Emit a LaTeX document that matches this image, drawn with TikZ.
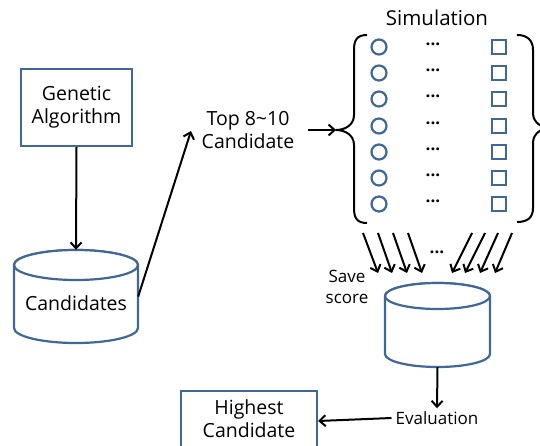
\documentclass[tikz,border=0pt]{standalone}
\usepackage{fontspec}
\setmainfont{Open Sans}
\usetikzlibrary{arrows.meta}
\definecolor{outl}{RGB}{63,103,151}
\tikzset{
  box/.style={draw=outl, line width=2.2pt, fill=white, inner sep=0pt},
  lbl/.style={align=center, font=\fontsize{19.5}{23}\selectfont, inner sep=0pt},
  small/.style={align=center, font=\fontsize{17}{21}\selectfont, inner sep=0pt},
  arr/.style={line width=2pt, -{Straight Barb[length=6pt,width=11pt,line width=2pt]}},
  circ/.style={circle, draw=outl, line width=2.2pt, minimum size=15pt, inner sep=0pt},
  sq/.style={rectangle, draw=outl, line width=2.2pt, minimum size=14pt, inner sep=0pt},
  brace/.style={line width=2pt, line join=round},
  cyl/.style={draw=outl, line width=2.2pt, fill=white},
  dots/.style={font=\fontsize{17}{17}\selectfont\bfseries, inner sep=0pt}
}
\begin{document}
\begin{tikzpicture}[x=1pt,y=1pt]
\useasboundingbox (0,0) rectangle (540,-446);
\clip (0,0) rectangle (540,-446);

% Genetic Algorithm box
\node[box, minimum width=111pt, minimum height=77pt] (ga) at (76.5,-107.5) {};
\node[lbl] (gat) at (ga.center) {Genetic\\Algorithm};

% Candidates cylinder
\draw[cyl] (14,-265) -- (14,-328) arc (180:360:62 and 15) -- (138,-265) arc (0:180:62 and 15) -- cycle;
\draw[cyl] (76,-265) ellipse (62 and 15);
\node[minimum width=124pt, minimum height=93pt, inner sep=0pt] (cand) at (76,-296.5) {};
\node[lbl] (candt) at (76,-303) {Candidates};

\draw[arr] (ga.south) -- (cand.north);

% Top 8~10 Candidate
\node[lbl] (top) at (248,-130) {Top 8\textasciitilde10\\Candidate};
\coordinate (topin) at (191,-131);
\draw[arr] (cand.east) -- (topin);

% Simulation
\node[lbl, font=\fontsize{20.5}{24}\selectfont] (sim) at (437,-18) {Simulation};
\coordinate (brL) at (336,-130);
\coordinate (brR) at (551,-128);
\draw[brace] (367,-35) .. controls (357,-35) and (354,-40) .. (354,-50) -- (354,-115)
  .. controls (354,-125) and (345,-130) .. (brL)
  .. controls (345,-130) and (354,-135) .. (354,-145) -- (354,-208)
  .. controls (354,-218) and (357,-223) .. (367,-223);
\draw[brace] (517,-35) .. controls (527,-35) and (533,-40) .. (533,-50) -- (533,-113)
  .. controls (533,-123) and (542,-128) .. (brR)
  .. controls (542,-128) and (533,-133) .. (533,-143) -- (533,-208)
  .. controls (533,-218) and (527,-222) .. (517,-222);
\coordinate (tstart) at (308,-130);
\draw[arr] (tstart) -- (brL);

\foreach \i/\y in {1/47,2/73,3/99,4/126,5/152,6/178,7/204}{
  \node[circ] (c\i) at (379,-\y) {};
  \node[dots] (d\i) at (433,-\y+3) {...};
  \node[sq] (s\i) at (499,-\y) {};
}

% second cylinder
\draw[cyl] (385,-296) -- (385,-354) arc (180:360:52.5 and 13) -- (490,-296) arc (0:180:52.5 and 13) -- cycle;
\draw[cyl] (437.5,-296) ellipse (52.5 and 13);
\node[minimum width=105pt, minimum height=84pt, inner sep=0pt] (store) at (437.5,-325) {};

% arrows into store
\foreach \n/\a/\b in {1/363/378,2/378/392,3/393/407,4/408/422,5/472/452,6/485/465,7/498/480,8/512/495}{
  \coordinate (as\n) at (\a,-233);
  \coordinate (ae\n) at (\b,-273);
  \draw[arr] (as\n) -- (ae\n);
}
\node[dots] (mdots) at (437,-252) {...};
\node[small] (save) at (347,-287) {Save\\score};

% Evaluation
\node[small] (eval) at (437,-418) {Evaluation};
\draw[arr] (store.south) -- ([yshift=3pt]eval.north);

% Highest Candidate
\node[box, minimum width=136pt, minimum height=60pt] (hc) at (249,-421) {};
\node[lbl] (hct) at (249,-419) {Highest\\Candidate};
\draw[arr] ([xshift=-4pt]eval.west) -- (hc.east);
\end{tikzpicture}
\end{document}
